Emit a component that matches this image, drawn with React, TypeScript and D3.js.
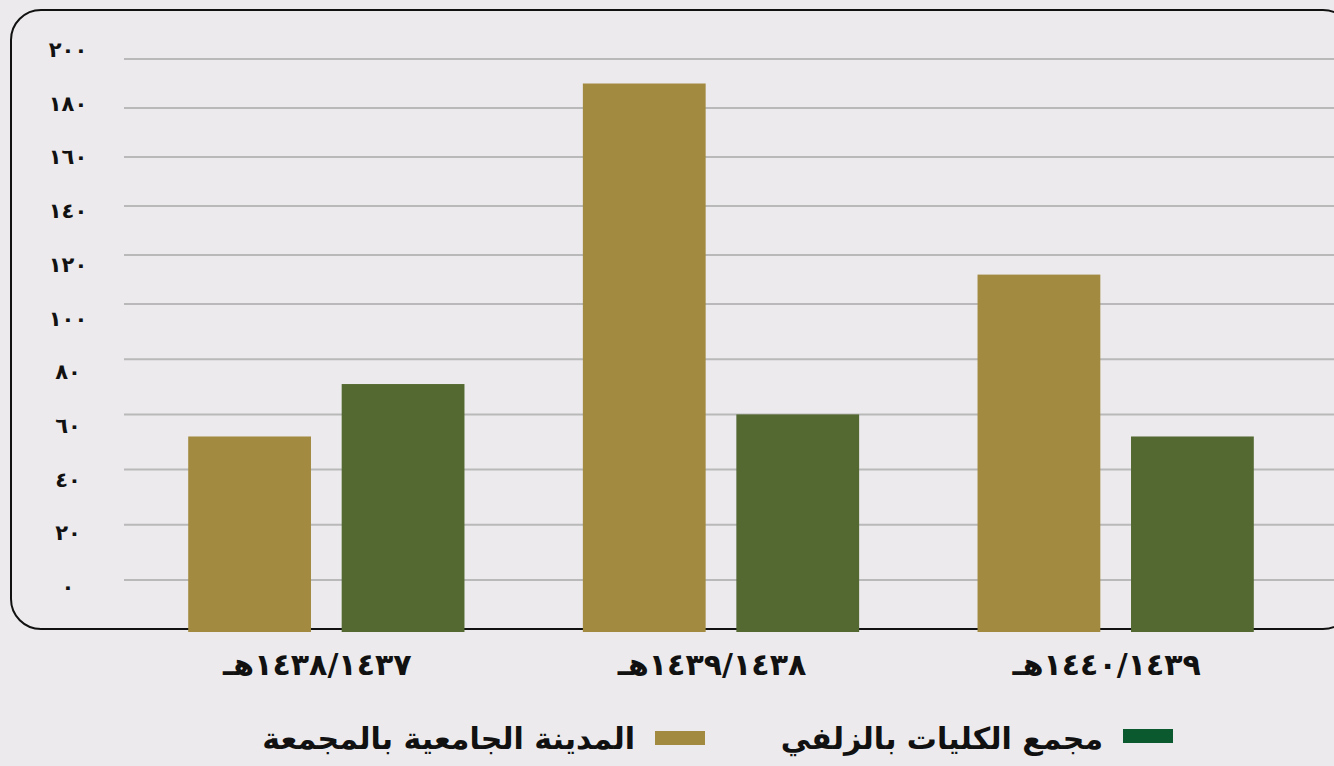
import * as d3 from "d3";

const W = 1334;
const H = 766;

// data
const periods = ["١٤٣٧\u200F/١٤٣٨هـ", "١٤٣٨\u200F/١٤٣٩هـ", "١٤٣٩\u200F/١٤٤٠هـ"];
const seriesNames = ["المدينة الجامعية بالمجمعة", "مجمع الكليات بالزلفي"];
const majmaahValues = [52, 190, 112];
const zulfiValues = [71, 60, 52];
const yTicks = [0, 20, 40, 60, 80, 100, 120, 140, 160, 180, 200];
const yTickLabels = ["٠", "٢٠", "٤٠", "٦٠", "٨٠", "١٠٠", "١٢٠", "١٤٠", "١٦٠", "١٨٠", "٢٠٠"];

const barColors = ["#A38A41", "#536931"];
const legendColors = ["#A38A41", "#0B5A2F"];
const font = "'DejaVu Sans', sans-serif";

export default function App() {
  const floor = 632; // bars run down to the frame bottom

  // the original axis is stretched below 100, so use a two-piece scale
  const y = d3.scaleLinear().domain([0, 100, 200]).range([580, 304, 59]);
  // tick labels sit on their own even spacing
  const yLabel = d3.scaleLinear().domain([0, 200]).range([588, 51]);

  const x = d3
    .scaleBand<string>()
    .domain(periods)
    .range([129, 1313])
    .paddingInner(0.3)
    .paddingOuter(0.15);
  const xs = d3
    .scaleBand<string>()
    .domain(seriesNames)
    .range([0, x.bandwidth()])
    .paddingInner(0.2);

  const rows = periods.map((p, i) => ({
    period: p,
    values: [majmaahValues[i], zulfiValues[i]],
  }));

  return (
    <svg
      width={W}
      height={H}
      style={{ position: "absolute", left: 0, top: 0, display: "block" }}
    >
      <rect width={W} height={H} fill="#ECEAEC" />
      <rect
        x={11}
        y={10}
        width={1342}
        height={619}
        rx={30}
        fill="none"
        stroke="#111"
        strokeWidth={2}
      />

      {/* grid + y labels */}
      {yTicks.map((t, i) => (
        <g key={t}>
          <line x1={124} x2={W} y1={y(t)} y2={y(t)} stroke="#B9B9B9" strokeWidth={2} />
          <text
            x={68}
            y={yLabel(t)}
            textAnchor="middle"
            dominantBaseline="middle"
            fontFamily={font}
            fontWeight="bold"
            fontSize={21}
            fill="#111"
          >
            {yTickLabels[i]}
          </text>
        </g>
      ))}

      {/* bars */}
      {rows.map((r) => (
        <g key={r.period} transform={`translate(${x(r.period)},0)`}>
          {r.values.map((v, j) => (
            <rect
              key={j}
              x={xs(seriesNames[j])}
              y={y(v)}
              width={xs.bandwidth()}
              height={floor - y(v)}
              fill={barColors[j]}
            />
          ))}
        </g>
      ))}

      {/* x labels */}
      {periods.map((p) => (
        <text
          key={p}
          x={(x(p) as number) + x.bandwidth() / 2 - 9}
          y={666}
          direction="rtl"
          textAnchor="middle"
          dominantBaseline="middle"
          fontFamily={font}
          fontWeight="bold"
          fontSize={30}
          fill="#111"
        >
          {p}
        </text>
      ))}

      {/* legend */}
      {[
        { name: seriesNames[0], color: legendColors[0], sx: 655, sy: 731 },
        { name: seriesNames[1], color: legendColors[1], sx: 1123, sy: 729 },
      ].map((l) => (
        <g key={l.name}>
          <rect x={l.sx} y={l.sy} width={50} height={14} fill={l.color} />
          <text
            x={l.sx - 20}
            y={740}
            textAnchor="end"
            dominantBaseline="middle"
            fontFamily={font}
            fontWeight="bold"
            fontSize={30}
            fill="#111"
          >
            {l.name}
          </text>
        </g>
      ))}
    </svg>
  );
}
